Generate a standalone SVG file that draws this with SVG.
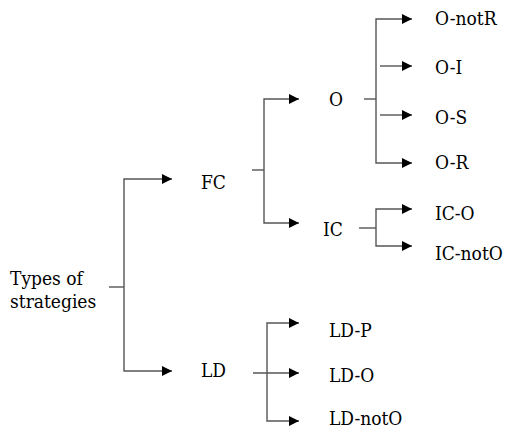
<svg xmlns="http://www.w3.org/2000/svg" width="507" height="429" viewBox="0 0 507 429">
<style>
text{font-family:"DejaVu Serif Condensed","DejaVu Serif",serif;font-stretch:condensed;font-size:19px;fill:#000}
.c path{fill:none;stroke:#555;stroke-width:1.4}
.c .a{marker-end:url(#ah)}
</style>
<defs>
<marker id="ah" viewBox="0 0 10 10" refX="10" refY="5" markerWidth="10" markerHeight="10" markerUnits="userSpaceOnUse" orient="auto">
<path d="M0,0L10,5L0,10Z" fill="#000"/>
</marker>
</defs>
<rect width="507" height="429" fill="#fff"/>
<g class="c" id="connectors">
<path d="M109,287H124"/>
<path class="a" d="M124,287V179H172"/>
<path class="a" d="M124,287V371H172"/>
<path d="M252,170H264"/>
<path class="a" d="M264,170V99H299"/>
<path class="a" d="M264,170V223H299"/>
<path d="M364,99H376"/>
<path class="a" d="M376,99V19H412"/>
<path class="a" d="M376,99V163H412"/>
<path class="a" d="M380,66H412"/>
<path class="a" d="M380,115H412"/>
<path d="M359,228H376"/>
<path class="a" d="M376,228V209H412"/>
<path class="a" d="M376,228V246H412"/>
<path class="a" d="M253,373H299"/>
<path class="a" d="M267,373V323H299"/>
<path class="a" d="M267,373V421H299"/>
</g>
<g id="n-root"><text x="10" y="285">Types of</text><text x="10" y="308">strategies</text></g>
<g id="n-FC"><text x="201" y="189">FC</text></g>
<g id="n-LD"><text x="201" y="377">LD</text></g>
<g id="n-O"><text x="329" y="106">O</text></g>
<g id="n-IC"><text x="323" y="236">IC</text></g>
<g id="n-OnotR"><text x="435" y="25">O-notR</text></g>
<g id="n-OI"><text x="435" y="74">O-I</text></g>
<g id="n-OS"><text x="435" y="124">O-S</text></g>
<g id="n-OR"><text x="435" y="169">O-R</text></g>
<g id="n-ICO"><text x="435" y="220">IC-O</text></g>
<g id="n-ICnotO"><text x="435" y="260">IC-notO</text></g>
<g id="n-LDP"><text x="329" y="337">LD-P</text></g>
<g id="n-LDO"><text x="329" y="382">LD-O</text></g>
<g id="n-LDnotO"><text x="329" y="425">LD-notO</text></g>
</svg>
